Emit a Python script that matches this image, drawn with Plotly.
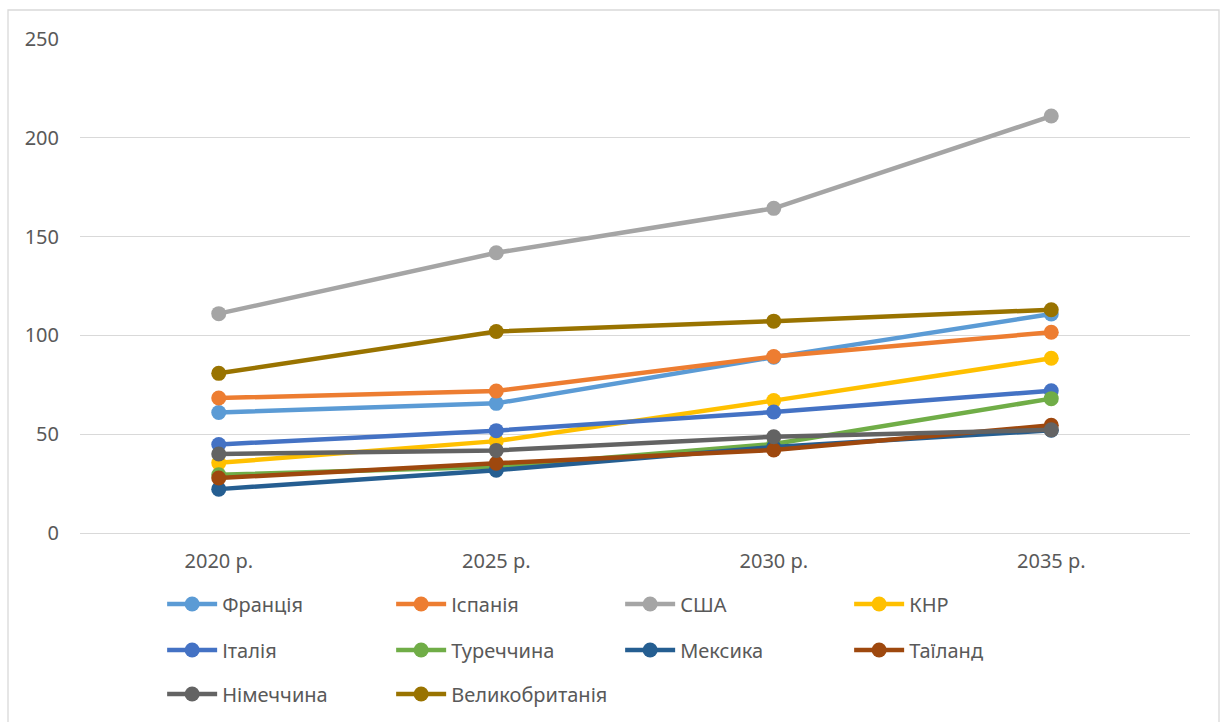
import plotly.graph_objects as go

categories = ["2020 р.", "2025 р.", "2030 р.", "2035 р."]

france = [61, 65.6, 89, 110.8]
spain = [68.3, 71.9, 89.3, 101.6]
usa = [111, 141.8, 164.3, 211]
china = [35.5, 46.5, 67, 88.4]
italy = [44.8, 51.8, 61.2, 72]
turkey = [29.5, 33.5, 45, 68]
mexico = [22.2, 31.8, 43.5, 52]
thailand = [27.8, 35.3, 42, 54.5]
germany = [40, 41.8, 48.7, 52.2]
uk = [80.8, 102, 107.2, 113]

series_names = ["Франція", "Іспанія", "США", "КНР", "Італія", "Туреччина",
                "Мексика", "Таїланд", "Німеччина", "Великобританія"]
series_values = [france, spain, usa, china, italy, turkey, mexico, thailand, germany, uk]
colors = ["#5B9BD5", "#ED7D31", "#A5A5A5", "#FFC000", "#4472C4", "#70AD47",
          "#255E91", "#9E480E", "#636363", "#997300"]
legend_rows = ["legend", "legend", "legend", "legend",
               "legend2", "legend2", "legend2", "legend2",
               "legend3", "legend3"]

fig = go.Figure()
for name, vals, c, lg in zip(series_names, series_values, colors, legend_rows):
    fig.add_trace(go.Scatter(
        x=categories, y=vals, name=name, mode="lines+markers",
        line=dict(color=c, width=4.5),
        marker=dict(color=c, size=15),
        legend=lg,
    ))

font_family = "Liberation Sans Narrow, Noto Sans, sans-serif"

def leg(ypix):
    return dict(
        orientation="h", x=0.074, y=(533 - ypix) / 494,
        xanchor="left", yanchor="middle",
        entrywidth=164, entrywidthmode="pixels",
        font=dict(size=20, color="#595959"),
        itemwidth=50, bgcolor="rgba(0,0,0,0)",
    )

fig.update_layout(
    width=1220, height=722,
    margin=dict(l=80, r=30, t=39, b=189, autoexpand=False),
    paper_bgcolor="white", plot_bgcolor="white",
    font=dict(family=font_family, size=19, color="#595959"),
    showlegend=True,
    legend=leg(604),
    legend2=leg(650),
    legend3=leg(694),
    xaxis=dict(
        type="category", range=[-0.5, 3.5],
        showgrid=False, showline=False, zeroline=False,
        ticks="", ticklabelstandoff=14,
        tickfont=dict(size=20, color="#595959"),
    ),
    yaxis=dict(
        range=[0, 250], dtick=50,
        showgrid=True, gridcolor="#D9D9D9", gridwidth=1.3,
        zeroline=True, zerolinecolor="#D9D9D9", zerolinewidth=1.3,
        showline=False, ticks="", ticklabelstandoff=20,
        tickfont=dict(size=20, color="#595959"),
    ),
    shapes=[dict(
        type="rect", xref="paper", yref="paper",
        x0=(8 - 80) / 1110, x1=(1219 - 80) / 1110,
        y0=(533 - 730) / 494, y1=(533 - 10) / 494,
        line=dict(color="#D9D9D9", width=1.3), fillcolor="rgba(0,0,0,0)",
        layer="below",
    )],
)

fig.write_html("out.html")
